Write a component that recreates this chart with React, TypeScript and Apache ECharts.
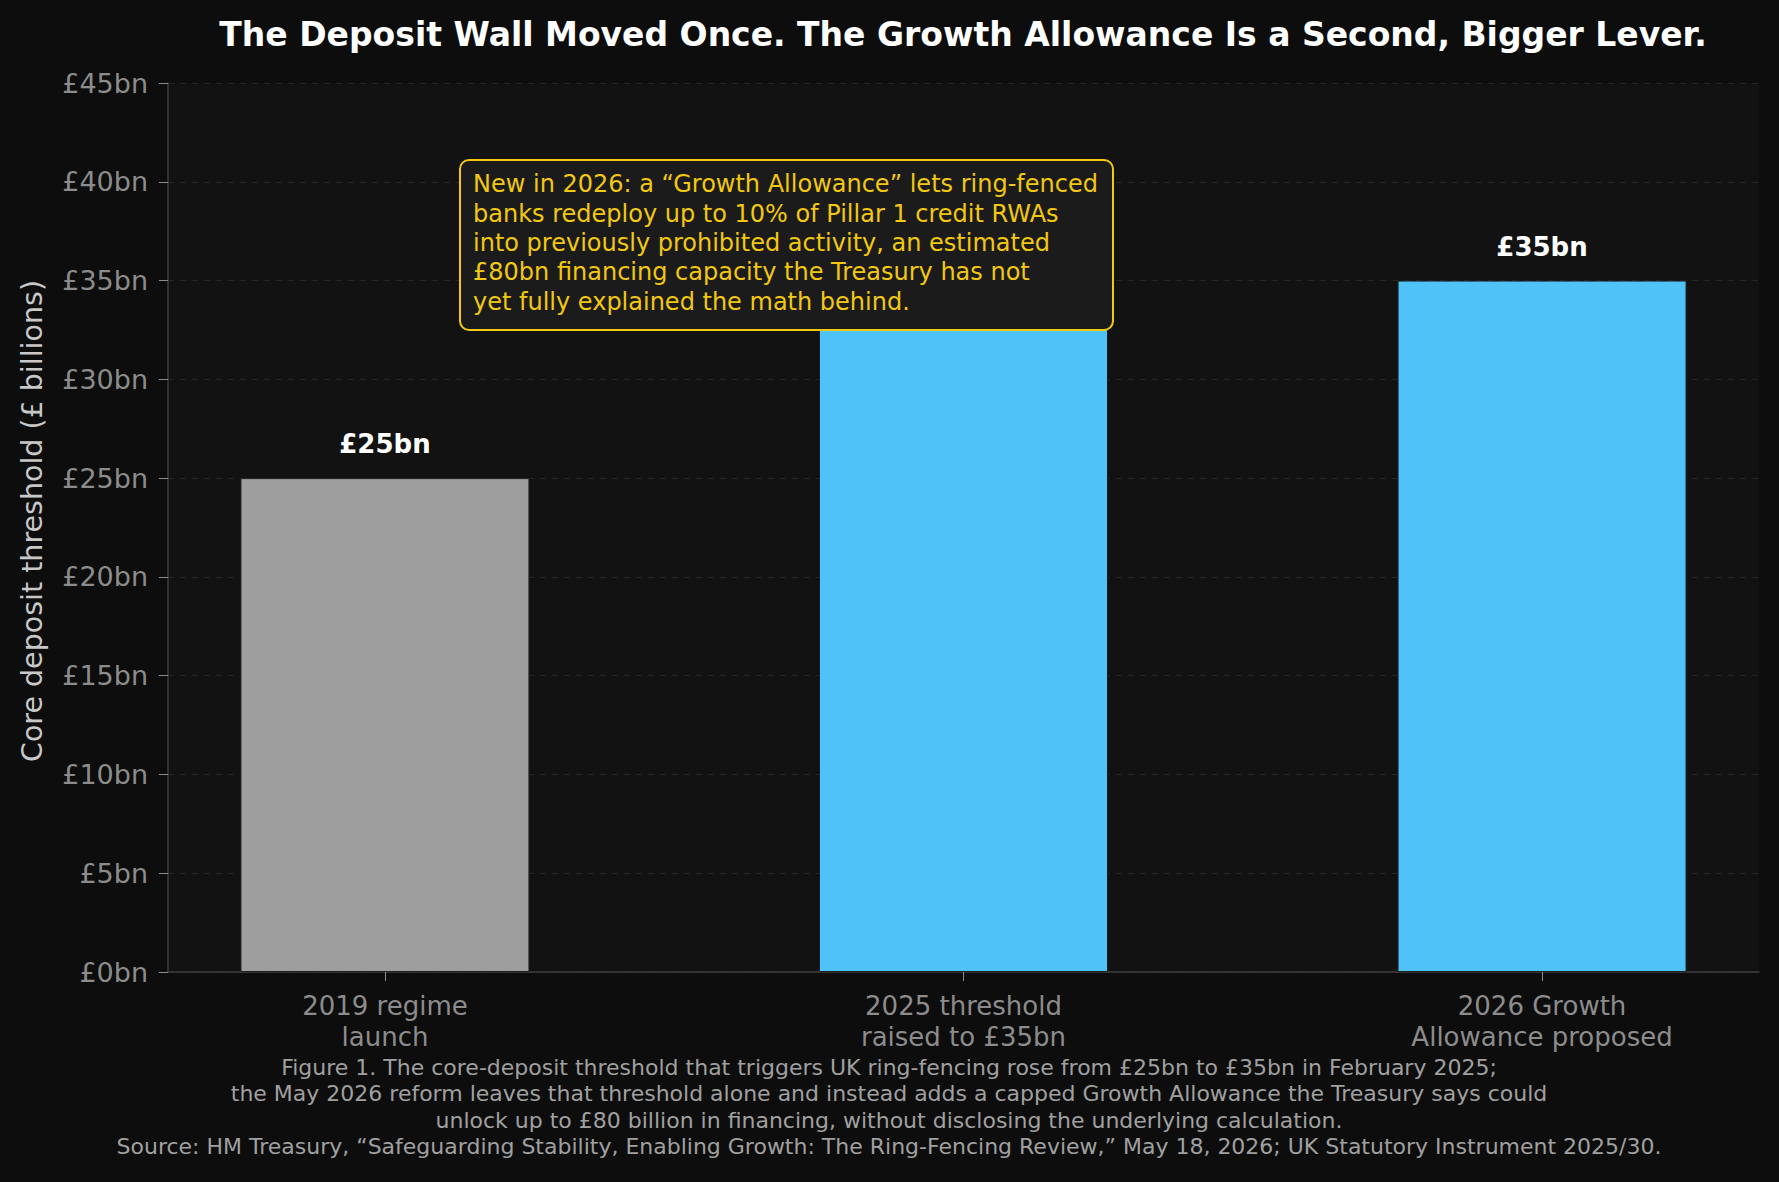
import React, { useEffect, useRef } from "react";
import * as echarts from "echarts";

const categories = ["2019 regime\nlaunch", "2025 threshold\nraised to £35bn", "2026 Growth\nAllowance proposed"];
const values = [25, 35, 35];
const barColors = ["#9e9e9e", "#4fc3f7", "#4fc3f7"];
const yTicks = [0, 5, 10, 15, 20, 25, 30, 35, 40, 45];

const titleText = "The Deposit Wall Moved Once. The Growth Allowance Is a Second, Bigger Lever.";
const yAxisTitle = "Core deposit threshold (£ billions)";
const noteText =
  "New in 2026: a \u201cGrowth Allowance\u201d lets ring-fenced\nbanks redeploy up to 10% of Pillar 1 credit RWAs\ninto previously prohibited activity, an estimated\n£80bn financing capacity the Treasury has not\nyet fully explained the math behind.";
const captionText =
  "Figure 1. The core-deposit threshold that triggers UK ring-fencing rose from £25bn to £35bn in February 2025;\nthe May 2026 reform leaves that threshold alone and instead adds a capped Growth Allowance the Treasury says could\nunlock up to £80 billion in financing, without disclosing the underlying calculation.\nSource: HM Treasury, \u201cSafeguarding Stability, Enabling Growth: The Ring-Fencing Review,\u201d May 18, 2026; UK Statutory Instrument 2025/30.";

const FONT = "DejaVu Sans";

export default function App() {
  const ref = useRef<HTMLDivElement>(null);
  useEffect(() => {
    document.body.style.margin = "0";
    document.body.style.background = "#0d0d0d";
    const chart = echarts.init(ref.current!, null, { renderer: "svg" });
    const option: any = {
      animation: false,
      backgroundColor: "#0d0d0d",
      textStyle: { fontFamily: FONT },
      grid: {
        left: 168,
        right: 20,
        top: 83,
        bottom: 210,
        show: true,
        backgroundColor: "#121212",
        borderWidth: 0,
      },
      xAxis: {
        type: "value",
        min: -0.375,
        max: 2.375,
        splitLine: { show: false },
        axisLine: { show: true, onZero: false, lineStyle: { color: "#3d3d3d", width: 1.5 } },
        axisTick: { show: true, customValues: [0, 1, 2], length: 9, lineStyle: { color: "#8c8c8c" } },
        axisLabel: {
          customValues: [0, 1, 2],
          formatter: (v: number) => categories[Math.round(v)] ?? "",
          color: "#8c8c8c",
          fontSize: 26,
          lineHeight: 31,
          margin: 18,
          fontFamily: FONT,
        },
      },
      yAxis: {
        type: "value",
        min: 0,
        max: 45,
        interval: 5,
        axisLine: { show: true, onZero: false, lineStyle: { color: "#3d3d3d", width: 1.5 } },
        axisTick: { show: true, length: 9, lineStyle: { color: "#8c8c8c" } },
        axisLabel: {
          formatter: (v: number) => (yTicks.includes(v) ? `£${v}bn` : ""),
          color: "#8c8c8c",
          fontSize: 27,
          margin: 20,
          fontFamily: FONT,
        },
        splitLine: { show: true, lineStyle: { color: "#262626", type: [6, 6], width: 1 } },
      },
      series: [
        {
          type: "bar",
          barWidth: 289,
          data: values.map((v, i) => ({
            value: [i, v],
            itemStyle: { color: barColors[i], borderColor: "#1e1e1e", borderWidth: 1 },
          })),
          label: {
            show: true,
            position: "top",
            distance: 21,
            formatter: (p: any) => `£${p.value[1]}bn`,
            color: "#ffffff",
            fontWeight: "bold",
            fontSize: 26,
            fontFamily: FONT,
          },
          z: 2,
        },
      ],
      graphic: [
        {
          type: "text",
          x: 963,
          y: 34,
          style: {
            text: titleText,
            fill: "#ffffff",
            font: `bold 33px "${FONT}"`,
            textAlign: "center",
            textVerticalAlign: "middle",
          },
        },
        {
          type: "text",
          x: 32,
          y: 521,
          rotation: Math.PI / 2,
          style: {
            text: yAxisTitle,
            fill: "#c8c8c8",
            font: `28.5px "${FONT}"`,
            textAlign: "center",
            textVerticalAlign: "middle",
          },
        },
        {
          type: "rect",
          z: 100,
          shape: { x: 460, y: 160, width: 653, height: 170, r: 9 },
          style: { fill: "#1b1b1b", stroke: "#f2c811", lineWidth: 2 },
        },
        {
          type: "text",
          z: 101,
          x: 473,
          y: 243,
          style: {
            text: noteText,
            fill: "#f2c811",
            font: `24px "${FONT}"`,
            lineHeight: 29.3,
            textAlign: "left",
            textVerticalAlign: "middle",
          },
        },
        {
          type: "text",
          x: 889,
          y: 1107,
          style: {
            text: captionText,
            fill: "#a0a0a0",
            font: `22px "${FONT}"`,
            lineHeight: 26.4,
            textAlign: "center",
            textVerticalAlign: "middle",
          },
        },
      ],
    };
    chart.setOption(option);
    return () => chart.dispose();
  }, []);
  return <div ref={ref} style={{ position: "fixed", left: 0, top: 0, width: 1779, height: 1182 }} />;
}
